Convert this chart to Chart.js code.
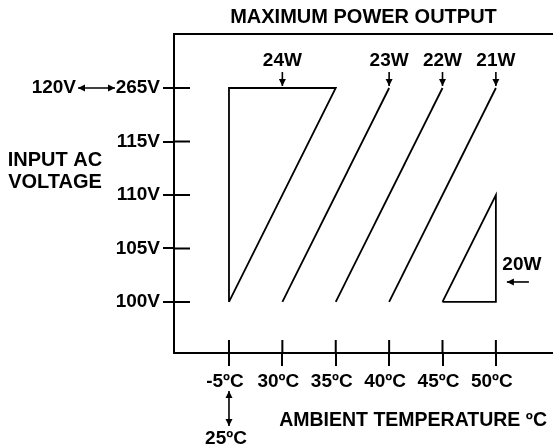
<!DOCTYPE html>
<html>
<head>
<meta charset="utf-8">
<script src="https://cdn.jsdelivr.net/npm/chart.js@4.4.1/dist/chart.umd.min.js"></script>
<style>
  html, body { margin: 0; padding: 0; background: #fff; }
  #wrap { width: 553px; height: 447px; }
</style>
</head>
<body>
<div id="wrap"><canvas id="derating"></canvas></div>
<script>
// axis ticks
const tempLabels = ['-5ºC', '30ºC', '35ºC', '40ºC', '45ºC', '50ºC'];
const voltTicks = [100, 105, 110, 115, 120];
const voltLabels = ['100V', '105V', '110V', '115V', '265V'];
const voltAltLabel = '120V'; // the top tick covers 120V to 265V

// curves: x = index into tempLabels, y = input voltage
const w24Temp = [0, 0, 2, 0];
const w24Volt = [100, 120, 120, 100];
const w23Temp = [1, 3];
const w23Volt = [100, 120];
const w22Temp = [2, 4];
const w22Volt = [100, 120];
const w21Temp = [3, 5];
const w21Volt = [100, 120];
const w20Temp = [4, 5, 5, 4];
const w20Volt = [100, 100, 110, 100];

const powerLabels = ['24W', '23W', '22W', '21W', '20W'];
const powerMarkTemp = [1, 3, 4, 5]; // where the down arrows hit the 120V line

const FONT = '"Liberation Sans", Arial, sans-serif';

function toPoints(xs, ys) {
  return xs.map((v, i) => ({ x: v, y: ys[i] }));
}

function arrowHead(ctx, x, y, angle) {
  ctx.save();
  ctx.translate(x, y);
  ctx.rotate(angle);
  ctx.beginPath();
  ctx.moveTo(0, 0);
  ctx.lineTo(-7, -3.5);
  ctx.lineTo(-7, 3.5);
  ctx.closePath();
  ctx.fill();
  ctx.restore();
}

function arrow(ctx, x1, y1, x2, y2, both) {
  const a = Math.atan2(y2 - y1, x2 - x1);
  ctx.beginPath();
  ctx.moveTo(x1, y1);
  ctx.lineTo(x2, y2);
  ctx.stroke();
  arrowHead(ctx, x2, y2, a);
  if (both) arrowHead(ctx, x1, y1, a + Math.PI);
}

// labels, arrows and inner tick stubs
const notes = {
  id: 'notes',
  afterDraw(chart) {
    const { ctx, chartArea: area, scales: { x, y } } = chart;
    ctx.save();
    ctx.strokeStyle = '#000';
    ctx.fillStyle = '#000';
    ctx.lineWidth = 2;

    ctx.beginPath();
    y.ticks.forEach(t => {
      const py = y.getPixelForValue(t.value);
      ctx.moveTo(area.left, py);
      ctx.lineTo(area.left + 16, py);
    });
    x.ticks.forEach(t => {
      const px = x.getPixelForValue(t.value);
      ctx.moveTo(px, area.bottom);
      ctx.lineTo(px, area.bottom - 13);
    });
    ctx.stroke();

    ctx.lineWidth = 1.6;
    ctx.font = 'bold 19px ' + FONT;
    ctx.textBaseline = 'middle';

    // 120V <-> 265V
    const top = y.getPixelForValue(120);
    ctx.textAlign = 'right';
    ctx.fillText(voltAltLabel, 76, top);
    arrow(ctx, 78, top, 115, top, true);

    ctx.textAlign = 'center';
    powerMarkTemp.forEach((t, i) => {
      const px = x.getPixelForValue(t);
      ctx.fillText(powerLabels[i], px, top - 27);
      arrow(ctx, px, top - 16, px, top - 2);
    });

    // 20W points at the small triangle
    const rx = x.getPixelForValue(5), by = y.getPixelForValue(100);
    ctx.fillText(powerLabels[4], rx + 26, by - 37);
    arrow(ctx, rx + 33, by - 20, rx + 11, by - 20);

    // -5ºC is also 25ºC
    const x0 = x.getPixelForValue(0);
    arrow(ctx, x0, 391, x0, 426, true);
    ctx.fillText('25ºC', x0 - 3, 439);

    // axis titles
    ctx.font = 'bold 20px ' + FONT;
    ctx.fillText('INPUT AC', 55, 160);
    ctx.fillText('VOLTAGE', 55, 182);
    ctx.font = 'bold 19.5px ' + FONT;
    ctx.textAlign = 'right';
    ctx.fillText('AMBIENT TEMPERATURE ºC', area.right - 6, 421);
    ctx.restore();
  }
};

const tickFont = { family: FONT, size: 19, weight: 'bold' };
const lineStyle = { showLine: true, borderColor: '#000', borderWidth: 1.8, pointRadius: 0, fill: false };

new Chart(document.getElementById('derating'), {
  type: 'scatter',
  data: {
    datasets: [
      { label: powerLabels[0], data: toPoints(w24Temp, w24Volt), ...lineStyle },
      { label: powerLabels[1], data: toPoints(w23Temp, w23Volt), ...lineStyle },
      { label: powerLabels[2], data: toPoints(w22Temp, w22Volt), ...lineStyle },
      { label: powerLabels[3], data: toPoints(w21Temp, w21Volt), ...lineStyle },
      { label: powerLabels[4], data: toPoints(w20Temp, w20Volt), ...lineStyle }
    ]
  },
  options: {
    responsive: true,
    maintainAspectRatio: false,
    animation: false,
    layout: { padding: 0 },
    plugins: { legend: { display: false }, tooltip: { enabled: false } },
    scales: {
      x: {
        type: 'linear',
        position: 'bottom',
        min: -1.03,
        max: 6.07,
        afterBuildTicks: s => { s.ticks = tempLabels.map((l, i) => ({ value: i })); },
        afterFit: s => { s.height = 94; },
        ticks: { callback: v => tempLabels[v], color: '#000', font: tickFont, padding: 4, labelOffset: -4, maxRotation: 0, autoSkip: false },
        grid: { drawOnChartArea: false, tickLength: 13, color: '#000', lineWidth: 2 },
        border: { color: '#000', width: 2 }
      },
      top: {
        type: 'linear',
        position: 'top',
        min: -1.03,
        max: 6.07,
        afterFit: s => { s.height = 34; },
        ticks: { display: false },
        grid: { display: false },
        border: { color: '#000', width: 2 },
        title: {
          display: true,
          text: 'MAXIMUM POWER OUTPUT',
          color: '#000',
          font: { family: FONT, size: 20, weight: 'bold' },
          padding: { top: 5, bottom: 0 }
        }
      },
      y: {
        type: 'linear',
        min: 95.23,
        max: 125.05,
        afterBuildTicks: s => { s.ticks = voltTicks.map(v => ({ value: v })); },
        afterFit: s => { s.width = 174; },
        ticks: { callback: v => voltLabels[voltTicks.indexOf(v)], color: '#000', font: tickFont, padding: 3 },
        grid: { drawOnChartArea: false, tickLength: 11, color: '#000', lineWidth: 2 },
        border: { color: '#000', width: 2 }
      }
    }
  },
  plugins: [notes]
});
</script>
</body>
</html>
